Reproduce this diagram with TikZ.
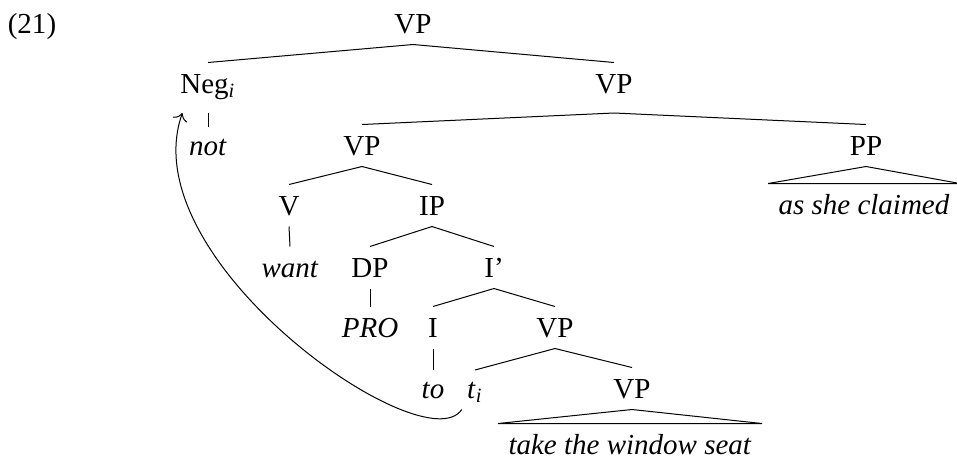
\documentclass[tikz,border=0pt]{standalone}
\usepackage{fontspec}
\setmainfont{Liberation Serif}
\usetikzlibrary{arrows.meta}
\begin{document}
\begin{tikzpicture}[x=0.4pt,y=-0.4pt,font=\fontsize{11.6pt}{14pt}\selectfont,
  every node/.style={anchor=base,text height=9pt,text depth=1.4pt,inner ysep=3pt,inner xsep=2pt},
  deep/.style={text depth=4.8pt},
  low/.style={text height=8pt},
  leaf/.style={inner xsep=4pt}]
\useasboundingbox (0,0) rectangle (957,461);

\node (ex) at (32,33) {(21)};

\node (vp1) at (413,33) {VP};
\node[deep] (neg) at (208,93) {Neg\textsubscript{\textit{i}}};
\node[deep] (vp2) at (614,93) {VP};
\node[low] (not) at (208,155) {\textit{not}};
\node (vp3) at (362,155) {VP};
\node (pp) at (866,155) {PP};
\node[leaf] (ppt) at (864,214) {\textit{as she claimed}};
\node (v) at (289,215) {V};
\node (ip) at (432,215) {IP};
\node (want) at (290,277) {\textit{want}};
\node (dp) at (370,277) {DP};
\node (ibar) at (494,277) {I'};
\node (pro) at (370,337) {\textit{PRO}};
\node (i) at (433,337) {I};
\node (vp4) at (555,337) {VP};
\node[low] (to) at (433,398) {\textit{to}};
\node[low] (ti) at (475,398) {\textit{t}\textsubscript{\textit{i}}};
\node (vp5) at (632,398) {VP};
\node[leaf] (vpt) at (630,454) {\textit{take the window seat}};

% branches
\draw (vp1.south) -- (neg.north);
\draw (vp1.south) -- (vp2.north);
\draw (neg.south) -- (not.north);
\draw (vp2.south) -- (vp3.north);
\draw (vp2.south) -- (pp.north);
\draw (vp3.south) -- (v.north);
\draw (vp3.south) -- (ip.north);
\draw (v.south) -- (want.north);
\draw (ip.south) -- (dp.north);
\draw (ip.south) -- (ibar.north);
\draw (dp.south) -- (pro.north);
\draw (ibar.south) -- (i.north);
\draw (ibar.south) -- (vp4.north);
\draw (i.south) -- (to.north);
\draw (vp4.south) -- (ti.north);
\draw (vp4.south) -- (vp5.north);

% triangles
\draw (pp.south) -- (ppt.north east) -- (ppt.north west) -- cycle;
\draw (vp5.south) -- (vpt.north east) -- (vpt.north west) -- cycle;

% movement
\draw[-{To[length=3pt,width=6pt]}] (ti.south west) .. controls (425,465) and (130,260) .. ([xshift=3pt]neg.south west);

\end{tikzpicture}
\end{document}
